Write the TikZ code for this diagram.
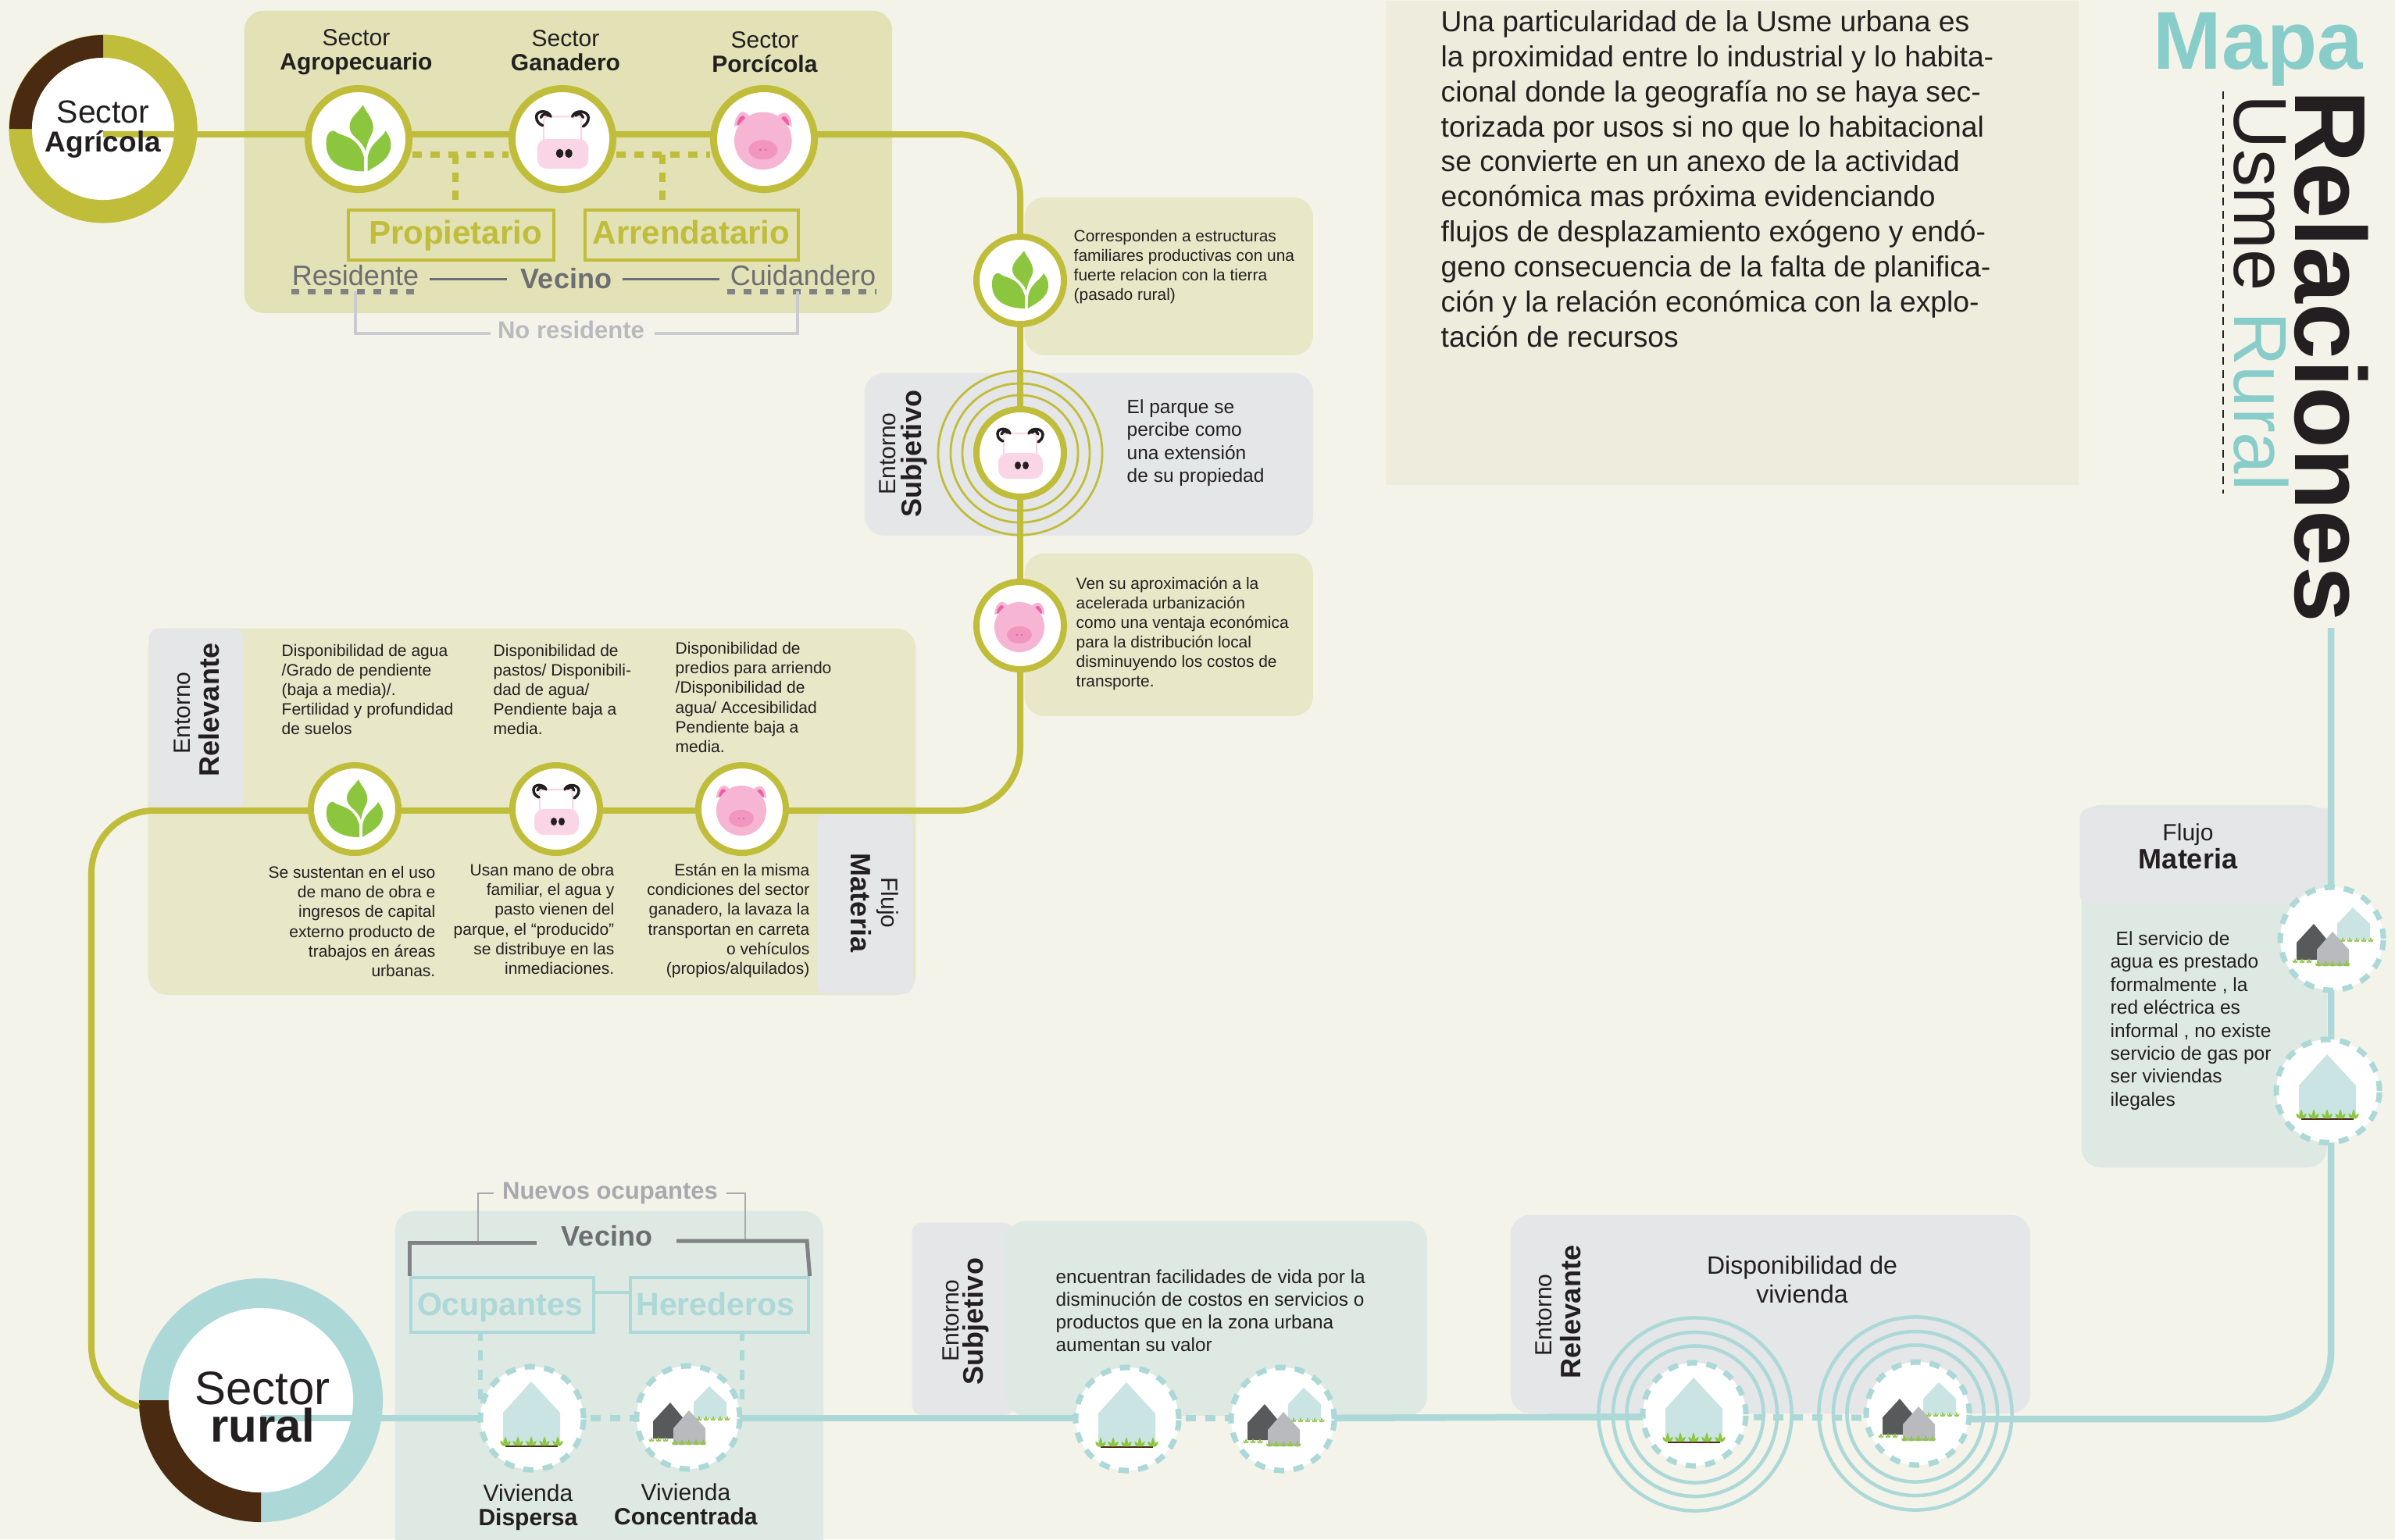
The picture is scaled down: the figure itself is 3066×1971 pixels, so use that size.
\documentclass[tikz,border=0pt]{standalone}
\usepackage{fontspec}
\setmainfont{Liberation Sans}
\newdimen\pxu \pxu=0.28453pt
\newdimen\pxa
\newdimen\pxb
\newcommand{\fontpx}[2]{\pxa=#1\pxu \pxb=#2\pxu \fontsize{\the\pxa}{\the\pxb}\selectfont}
\definecolor{bgcol}{HTML}{F3F3EA}
\definecolor{olivec}{HTML}{C0BD3A}
\definecolor{tealc}{HTML}{ACD8D8}
\definecolor{brownc}{HTML}{4A2A10}
\definecolor{panelol}{HTML}{E2E2B6}
\definecolor{panelli}{HTML}{E8E7C7}
\definecolor{panelgr}{HTML}{E5E6E8}
\definecolor{panelte}{HTML}{DDE9E2}
\definecolor{panelbe}{HTML}{EEECDD}
\definecolor{inkc}{HTML}{231F20}
\definecolor{titlec}{HTML}{88CDC9}
\definecolor{leafc}{HTML}{8CC63F}
\definecolor{housec}{HTML}{CAE4E3}
\definecolor{cowpink}{HTML}{FAD5E5}
\definecolor{pigbody}{HTML}{F5B5D3}
\definecolor{pigsnout}{HTML}{F296BE}
\definecolor{pigear}{HTML}{ED5FA5}
\definecolor{greyt}{HTML}{6D6E71}
\definecolor{greyd}{HTML}{808285}
\definecolor{greyl}{HTML}{A7A9AC}
\definecolor{greyp}{HTML}{C9CBCE}
\definecolor{housed}{HTML}{58595B}
\definecolor{housem}{HTML}{B9BABD}
\tikzset{
    panel/.style={anchor=north west, rounded corners=0.25cm, inner sep=0pt},
    tab/.style={anchor=north west, rounded corners=0.12cm, inner sep=0pt, fill=panelgr},
    olline/.style={draw=olivec, line width=0.08cm},
    tealline/.style={draw=tealc, line width=0.085cm},
    oldots/.style={draw=olivec, line width=0.08cm, dash pattern=on 0.12cm off 0.11cm},
    tealdots/.style={draw=tealc, line width=0.08cm, dash pattern=on 0.13cm off 0.12cm},
    iconbig/.style={shape=circle, fill=white, draw=olivec, line width=0.09cm, minimum size=1.29cm, inner sep=0pt},
    iconsmall/.style={shape=circle, fill=white, draw=olivec, line width=0.08cm, minimum size=1.12cm, inner sep=0pt},
    dashring/.style={shape=circle, fill=white, draw=tealc, line width=0.07cm,
        dash pattern=on 0.13cm off 0.12cm, minimum size=1.32cm, inner sep=0pt},
    labelbox/.style={anchor=north west, inner sep=0pt, line width=0.035cm},
    waveol/.style={draw=olivec, line width=0.028cm},
    waveteal/.style={draw=tealc, line width=0.045cm},
    txt/.style={inner sep=0pt, text=inkc, align=#1},
    txt/.default=left,
    smalltxt/.style={txt=#1, font=\fontpx{21}{25.2}},
    smalltxt/.default=left,
    sidesmall/.style={txt, font=\fontpx{20.9}{25}},
    bodytxt/.style={txt, font=\fontpx{24.5}{29.4}},
    head/.style={txt=center, font=\fontpx{30}{31}},
    entorno/.style={txt=center, font=\fontpx{30}{33}},
    entornob/.style={txt=center, font=\bfseries\fontpx{36}{33}},
    leafic/.pic={
        \fill[leafc] (8,14) .. controls (10,-2) and (18,-6) .. (16,-16) .. controls (14,-26) and (8,-30) .. (5,-38)
            .. controls (0,-30) and (-10,-24) .. (-10,-14) .. controls (-10,-2) and (4,0) .. (8,14) -- cycle;
        \fill[leafc] (6,36) .. controls (-12,36) and (-38,30) .. (-36,2) .. controls (-35,-8) and (-30,-10) .. (-27,-9)
            .. controls (-20,-2) and (-2,-6) .. (6,20) -- cycle;
        \fill[leafc] (10,36) .. controls (18,30) and (36,24) .. (36,6) .. controls (36,-2) and (32,-6) .. (30,-9)
            .. controls (26,0) and (12,4) .. (10,22) -- cycle;},
    cowic/.pic={
        \draw[draw=cowpink, line width=0.02cm, fill=white] (-21,2) -- (-21,-20) .. controls (-21,-25) and (-17,-25) .. (-14,-25)
            -- (14,-25) .. controls (18,-25) and (21,-25) .. (21,-20) -- (21,2);
        \fill[fill=cowpink, rounded corners=0.12cm] (-28,0) rectangle (29,33);
        \fill[inkc] (-3,16) circle[x radius=4, y radius=5];
        \fill[inkc] (7,16) circle[x radius=4, y radius=5];
        \draw[inkc, line width=0.035cm, line cap=round] (-13,-25) .. controls (-16,-33) and (-29,-32) .. (-29,-25)
            .. controls (-29,-19) and (-26,-17) .. (-22,-15) (-24,-24) .. controls (-22,-29) and (-17,-28) .. (-16,-26);
        \draw[inkc, line width=0.035cm, line cap=round] (11,-25) .. controls (14,-33) and (28,-32) .. (29,-24)
            .. controls (29,-19) and (26,-16) .. (23,-14) (23,-24) .. controls (21,-29) and (17,-29) .. (15,-26);},
    pigic/.pic={
        \fill[pigbody] (-33,-14) .. controls (-33,-24) and (-26,-32) .. (-22,-30) .. controls (-17,-28) and (-15,-24) .. (-14,-20) -- cycle;
        \fill[pigbody] (31,-14) .. controls (31,-24) and (26,-31) .. (21,-29) .. controls (16,-28) and (13,-24) .. (12,-20) -- cycle;
        \fill[pigear] (-30,-15) .. controls (-30,-21) and (-26,-27) .. (-23,-26) -- (-18,-20) -- cycle;
        \fill[pigear] (28,-15) .. controls (28,-21) and (25,-26) .. (21,-25) -- (17,-20) -- cycle;
        \fill[pigbody] (-1,2) circle[radius=32];
        \fill[pigsnout] (-1,12) circle[x radius=16, y radius=11];
        \fill[pigear] (-4,12) circle[radius=1.3];
        \fill[pigear] (2,12) circle[radius=1.3];},
    tuft/.pic={
        \fill[leafc] (0,2) .. controls (-3,-2) and (-2,-4) .. (0,-9) .. controls (2,-4) and (3,-2) .. (0,2) -- cycle;
        \fill[leafc] (0,2) .. controls (-4,3) and (-6,0) .. (-6,-4) .. controls (-3,-3) and (-1,-1) .. (0,2) -- cycle;
        \fill[leafc] (0,2) .. controls (4,3) and (6,0) .. (6,-4) .. controls (3,-3) and (1,-1) .. (0,2) -- cycle;},
    houseone/.pic={
        \fill[housec] (-1,-47) -- (36,-7) -- (36,36) -- (-37,36) -- (-37,-7) -- cycle;
        \draw[brownc, line width=0.02cm] (-34,36) -- (33,36);
        \foreach \gx in {-34,-18,-1,16,33} { \pic[scale=1.1] at (\gx,33) {tuft}; }},
    housetwo/.pic={
        \fill[housec] (27,-40) -- (49,-19) -- (49,1) -- (7,1) -- (7,-19) -- cycle;
        \foreach \gx in {14,23,32,41,50} { \pic[scale=0.6] at (\gx,3) {tuft}; }
        \fill[housed] (-23,-19) -- (-3,5) -- (-3,27) -- (-45,27) -- (-45,5) -- cycle;
        \foreach \gx in {-47,-38,-29} { \pic[scale=0.6] at (\gx,30) {tuft}; }
        \fill[housem] (1,-9) -- (22,14) -- (22,35) -- (-19,35) -- (-19,14) -- cycle;
        \foreach \gx in {-17,-8,1,10,19} { \pic[scale=0.7] at (\gx,34) {tuft}; }},
}
\begin{document}
\begin{tikzpicture}[x=0.01cm,y=-0.01cm]
    \useasboundingbox (0,0) rectangle (3066,1971);
    \fill[bgcol] (0,0) rectangle (3066,1971);
    % panels
    \node[panel, fill=panelbe, rounded corners=0pt, minimum width=8.87cm, minimum height=6.2cm] (textpanel) at (1773,0) {};
    \node[panel, fill=panelol, minimum width=8.29cm, minimum height=3.87cm] (panelagri) at (312,13) {};
    \node[panel, fill=panelli, minimum width=3.69cm, minimum height=2.02cm] (panelfam) at (1311,252) {};
    \node[panel, fill=panelgr, minimum width=5.74cm, minimum height=2.08cm] (panelsub) at (1106,477) {};
    \node[panel, fill=panelli, minimum width=3.69cm, minimum height=2.08cm] (panelurb) at (1311,708) {};
    \node[panel, fill=panelli, minimum width=9.82cm, minimum height=4.69cm] (panelrel) at (189,804) {};
    \node[tab, minimum width=1.21cm, minimum height=2.31cm] (tabrel) at (190,804) {};
    \node[tab, minimum width=1.23cm, minimum height=2.3cm] (tabflu) at (1045,1042) {};
    \node[panel, fill=panelte, minimum width=5.48cm, minimum height=4.5cm] (panelviv) at (505,1550) {};
    \node[tab, minimum width=1.3cm, minimum height=2.46cm] (tabsub) at (1167,1565) {};
    \node[panel, fill=panelte, minimum width=5.39cm, minimum height=2.49cm] (panelfac) at (1287,1563) {};
    \node[panel, fill=panelgr, minimum width=6.65cm, minimum height=2.54cm] (paneldis) at (1933,1555) {};
    \node[panel, fill=panelte, minimum width=3.14cm, minimum height=4.64cm] (panelser) at (2664,1030) {};
    \node[tab, minimum width=3.25cm, minimum height=1.23cm] (tabser) at (2662,1034) {};
    % rings of both sector circles
    \node[shape=circle, fill=olivec, minimum size=2.41cm, inner sep=0pt] (ragri) at (132,165) {};
    \fill[brownc] (12,165) arc[start angle=180, end angle=270, radius=120] -- (132,74)
        arc[start angle=270, end angle=180, radius=91] -- cycle;
    \node[shape=circle, fill=white, minimum size=1.82cm, inner sep=0pt] (wagri) at (132,165) {};
    \node[shape=circle, fill=tealc, minimum size=3.12cm, inner sep=0pt] (rrural) at (334,1793) {};
    \fill[brownc] (178,1793) arc[start angle=180, end angle=90, radius=156] -- (334,1911)
        arc[start angle=90, end angle=180, radius=118] -- cycle;
    \node[shape=circle, fill=white, minimum size=2.36cm, inner sep=0pt] (wrural) at (334,1793) {};
    % named turning points
    \coordinate (lineagri) at (0,172);
    \coordinate (bendtop) at (1306,172);
    \coordinate (bendmid) at (1306,1038);
    \coordinate (bendleft) at (117,1038);
    \coordinate (endleft) at (117,1724);
    \coordinate (endcurve) at (178,1801);
    \coordinate (linerural) at (0,1816);
    \coordinate (bendright) at (2984,1817);
    \coordinate (endright) at (2984,804);
    \coordinate (dotagri) at (0,198);
    % olive route
    \draw[olline] (ragri |- lineagri) -- (978,172);
    \draw[olline, rounded corners=0.8cm] (978,172) -- (bendtop) -- (1306,359);
    \draw[olline] (1306,359) -- (1306,801);
    \draw[olline, rounded corners=0.8cm] (1306,801) -- (bendmid) -- (950,1038);
    \draw[olline] (950,1038) -- (454,1038);
    \draw[olline, rounded corners=0.8cm] (454,1038) -- (bendleft) -- (endleft);
    \draw[olline] (endleft) .. controls (117,1765) and (145,1792) .. (endcurve);
    % teal route
    \draw[tealline] (rrural |- linerural) -- (681,1816);
    \draw[tealdots] (681,1816) -- (881,1816);
    \draw[tealline] (881,1816) -- (1443,1816);
    \draw[tealdots] (1443,1816) -- (1642,1816);
    \draw[tealline] (1642,1816) -- (2170,1814);
    \draw[tealdots] (2170,1814) -- (2455,1816);
    \draw[tealline, rounded corners=0.85cm] (2455,1817) -- (bendright) -- (endright);
    % wave rings
    \foreach \wr in {1.48,1.78,2.1} {
        \node[shape=circle, waveol, minimum size=\wr cm, inner sep=0pt] (wavesub\wr) at (1306,580) {};
    }
    \foreach \wr in {1.75,2.1,2.47} {
        \node[shape=circle, waveteal, minimum size=\wr cm, inner sep=0pt] (wavea\wr) at (2170,1811) {};
        \node[shape=circle, waveteal, minimum size=\wr cm, inner sep=0pt] (waveb\wr) at (2452,1810) {};
    }
    % icons
    \node[iconbig] (leafagri) at (459,178) {};
    \node[iconbig] (cowagri) at (720,178) {};
    \node[iconbig] (pigagri) at (978,178) {};
    \pic[scale=1.15] at (leafagri) {leafic};
    \pic[scale=1.15] at (cowagri) {cowic};
    \pic[scale=1.15] at (pigagri) {pigic};
    \node[iconsmall] (leafsub) at (1306,359) {};
    \node[iconsmall] (cowsub) at (1306,580) {};
    \node[iconsmall] (pigsub) at (1306,801) {};
    \pic at (leafsub) {leafic};
    \pic at (cowsub) {cowic};
    \pic at (pigsub) {pigic};
    \node[iconsmall] (leafrel) at (454,1036) {};
    \node[iconsmall] (cowrel) at (712,1036) {};
    \node[iconsmall] (pigrel) at (950,1036) {};
    \pic at (leafrel) {leafic};
    \pic at (cowrel) {cowic};
    \pic at (pigrel) {pigic};
    \node[dashring] (dispa) at (681,1816) {};
    \node[dashring] (conca) at (881,1815) {};
    \node[dashring] (dispb) at (1443,1817) {};
    \node[dashring] (concb) at (1642,1817) {};
    \node[dashring] (dispc) at (2169,1811) {};
    \node[dashring] (concc) at (2455,1810) {};
    \node[dashring] (concd) at (2985,1202) {};
    \node[dashring] (dispd) at (2980,1397) {};
    \foreach \hn in {dispa,dispb,dispc,dispd} { \pic at (\hn) {houseone}; }
    \foreach \hn in {conca,concb,concc,concd} { \pic at (\hn) {housetwo}; }
    % owner links in the top panel
    \draw[oldots] (leafagri |- dotagri) ++(69,0) -- (651,198);
    \draw[oldots] (789,198) -- (909,198);
    \node[labelbox, draw=olivec, minimum width=2.63cm, minimum height=0.64cm] (propbox) at (444,267) {};
    \node[labelbox, draw=olivec, minimum width=2.73cm, minimum height=0.64cm] (arrebox) at (747,267) {};
    \draw[oldots] (583,198) -- (583,267);
    \draw[oldots] (848,198) -- (848,267);
    \node[text=olivec, font=\bfseries\fontpx{42}{44}, inner sep=0pt, anchor=base] (prop) at (583,312) {Propietario};
    \node[text=olivec, font=\bfseries\fontpx{42}{44}, inner sep=0pt, anchor=base] (arre) at (885,312) {Arrendatario};
    \node[text=greyt, font=\fontpx{36}{38}, inner sep=0pt] (resi) at (455,353) {Residente};
    \node[text=greyt, font=\bfseries\fontpx{36}{38}, inner sep=0pt] (veci) at (725,357) {Vecino};
    \node[text=greyt, font=\fontpx{36}{38}, inner sep=0pt] (cuid) at (1028,353) {Cuidandero};
    \draw[draw=greyt, line width=0.03cm] ([xshift=0.13cm]resi.east |- veci) -- ([xshift=-0.17cm]veci.west);
    \draw[draw=greyt, line width=0.03cm] ([xshift=0.13cm]veci.east) -- ([xshift=-0.13cm]cuid.west |- veci);
    \draw[draw=greyd, line width=0.07cm, dash pattern=on 0.1cm off 0.11cm] (373,373) -- (532,373);
    \draw[draw=greyd, line width=0.07cm, dash pattern=on 0.1cm off 0.11cm] (931,373) -- (1122,373);
    \node[text=greyl!80!white, font=\bfseries\fontpx{31}{33}, inner sep=0pt] (nores) at (731,422) {No residente};
    \draw[draw=greyp, line width=0.045cm] (455,373) |- ([xshift=-0.08cm,yshift=-0.05cm]nores.west);
    \draw[draw=greyp, line width=0.045cm] (1021,373) |- ([xshift=0.12cm,yshift=-0.05cm]nores.east);
    % vivienda labels
    \node[text=greyl, font=\bfseries\fontpx{31}{33}, inner sep=0pt] (nuevos) at (781,1528) {Nuevos ocupantes};
    \coordinate (veciL) at (612,1590);
    \coordinate (veciR) at (954,1590);
    \draw[draw=greyl, line width=0.025cm] (veciL) |- ([xshift=-0.1cm]nuevos.west);
    \draw[draw=greyl, line width=0.025cm] (veciR) |- ([xshift=0.1cm]nuevos.east);
    \node[text=greyt, font=\bfseries\fontpx{36}{38}, inner sep=0pt] (vecib) at (777,1583) {Vecino};
    \node[labelbox, draw=tealc, minimum width=2.34cm, minimum height=0.7cm] (ocubox) at (524,1634) {};
    \node[labelbox, draw=tealc, minimum width=2.28cm, minimum height=0.7cm] (herbox) at (805,1634) {};
    \draw[draw=greyd, line width=0.05cm] (ocubox.north west) -- (524,1591) -- (687,1591);
    \draw[draw=greyd, line width=0.05cm] (866,1589) -- (1033,1589) -- (herbox.north east);
    \draw[draw=tealc, line width=0.04cm] (ocubox.east |- 0,1655) -- (herbox.west |- 0,1655);
    \node[text=tealc, font=\bfseries\fontpx{41}{43}, inner sep=0pt, anchor=base] (ocu) at (640,1684) {Ocupantes};
    \node[text=tealc, font=\bfseries\fontpx{41}{43}, inner sep=0pt, anchor=base] (her) at (916,1684) {Herederos};
    \draw[tealdots, line width=0.065cm] (615,1704) -- (615,1800);
    \draw[tealdots, line width=0.065cm] (950,1704) -- (950,1800);
    % text of the first panel and sector circles
    \node[txt=center, font=\fontpx{41}{37}] (tagri) at (132,166) {Sector\\{\fontpx{37}{37}\textbf{Agrícola}}};
    \node[txt=center, font=\fontpx{60}{48}] (trural) at (336,1802) {Sector\\\textbf{rural}};
    \node[head] (hagro) at (456,66.5) {Sector\\\textbf{Agropecuario}};
    \node[head] (hgana) at (724,64.5) {Sector\\\textbf{Ganadero}};
    \node[head] (hporc) at (979,66.5) {Sector\\\textbf{Porcícola}};
    \node[head] (tdis) at (676,1930) {Vivienda\\\textbf{Dispersa}};
    \node[head] (tcon) at (878,1926.5) {Vivienda\\\textbf{Concentrada}};
    % side labels
    \node[entorno, rotate=90] (entsuba) at (1136,581) {Entorno};
    \node[entornob, rotate=90] (entsubb) at (1170,581) {Subjetivo};
    \node[entorno, rotate=90] (entrela) at (233,913) {Entorno};
    \node[entornob, rotate=90] (entrelb) at (268,909) {Relevante};
    \node[entorno, rotate=-90] (flua) at (1136,1156) {Flujo};
    \node[entornob, rotate=-90] (flub) at (1102,1156) {Materia};
    \node[entorno, rotate=90] (entsubc) at (1217,1691) {Entorno};
    \node[entornob, rotate=90] (entsubd) at (1249,1692) {Subjetivo};
    \node[entorno, rotate=90] (entrelc) at (1976,1684) {Entorno};
    \node[entornob, rotate=90] (entreld) at (2011,1680) {Relevante};
    \node[entorno] (fluc) at (2801,1069) {Flujo};
    \node[entornob] (flud) at (2801,1100) {Materia};
    % running text
    \node[sidesmall, anchor=west] (tfam) at (1374,342) {Corresponden a estructuras\\familiares productivas con una\\fuerte relacion con la tierra\\(pasado rural)};
    \node[bodytxt, anchor=west] (tpar) at (1442,567) {El parque se\\percibe como\\una extensión\\de su propiedad};
    \node[sidesmall, anchor=west] (turb) at (1377,811) {Ven su aproximación a la\\acelerada urbanización\\como una ventaja económica\\para la distribución local\\disminuyendo los costos de\\transporte.};
    \node[smalltxt, anchor=west] (rela) at (360,883) {Disponibilidad de agua\\/Grado de pendiente\\(baja a media)/.\\Fertilidad y profundidad\\de suelos};
    \node[smalltxt, anchor=west] (relb) at (631,883) {Disponibilidad de\\pastos/ Disponibili-\\dad de agua/\\Pendiente baja a\\media.};
    \node[smalltxt, anchor=west] (relc) at (864,893) {Disponibilidad de\\predios para arriendo\\/Disponibilidad de\\agua/ Accesibilidad\\Pendiente baja a\\media.};
    \node[smalltxt=right, anchor=east] (mata) at (558,1180) {Se sustentan en el uso\\de mano de obra e\\ingresos de capital\\externo producto de\\trabajos en áreas\\urbanas.};
    \node[smalltxt=right, anchor=east] (matb) at (787,1177) {Usan mano de obra\\familiar, el agua y\\pasto vienen del\\parque, el “producido”\\se distribuye en las\\inmediaciones.};
    \node[smalltxt=right, anchor=east] (matc) at (1037,1179) {Están en la misma\\condiciones del sector\\ganadero, la lavaza la\\transportan en carreta\\o vehículos\\(propios/alquilados)};
    \node[txt, font=\fontpx{24.3}{29}, anchor=west] (tfac) at (1351,1678) {encuentran facilidades de vida por la\\disminución de costos en servicios o\\productos que en la zona urbana\\aumentan su valor};
    \node[txt=center, font=\fontpx{32}{37}] (tviv) at (2307,1639) {Disponibilidad de\\vivienda};
    \node[bodytxt, anchor=west] (tser) at (2701,1307) {\hspace{0.07cm}El servicio de\\agua es prestado\\formalmente , la\\red eléctrica es\\informal , no existe\\servicio de gas por\\ser viviendas\\ilegales};
    \node[txt, font=\fontpx{37.2}{44.8}, anchor=west] (tusme) at (1844,229) {Una particularidad de la Usme urbana es\\la proximidad entre lo industrial y lo habita-\\cional donde la geografía no se haya sec-\\torizada por usos si no que lo habitacional\\se convierte en un anexo de la actividad\\económica mas próxima evidenciando\\flujos de desplazamiento exógeno y endó-\\geno consecuencia de la falta de planifica-\\ción y la relación económica con la explo-\\tación de recursos};
    % title
    \node[text=titlec, font=\bfseries\fontpx{105}{105}, inner sep=0pt, anchor=base] (tmapa) at (2891,88) {Mapa};
    \node[text=inkc, font=\bfseries\fontpx{129}{129}, inner sep=0pt, anchor=base west, rotate=-90] (trela) at (2938,115) {Relaciones};
    \node[text=inkc, font=\fontpx{96}{96}, inner sep=0pt, anchor=base west, rotate=-90] (tusm) at (2860,121) {Usme \textcolor{titlec}{Rural}};
    \coordinate (dashtop) at (2846,117);
    \coordinate (dashend) at (2846,632);
    \draw[draw=inkc, line width=0.025cm, dash pattern=on 0.1cm off 0.07cm] (dashtop) -- (dashend);
\end{tikzpicture}
\end{document}
